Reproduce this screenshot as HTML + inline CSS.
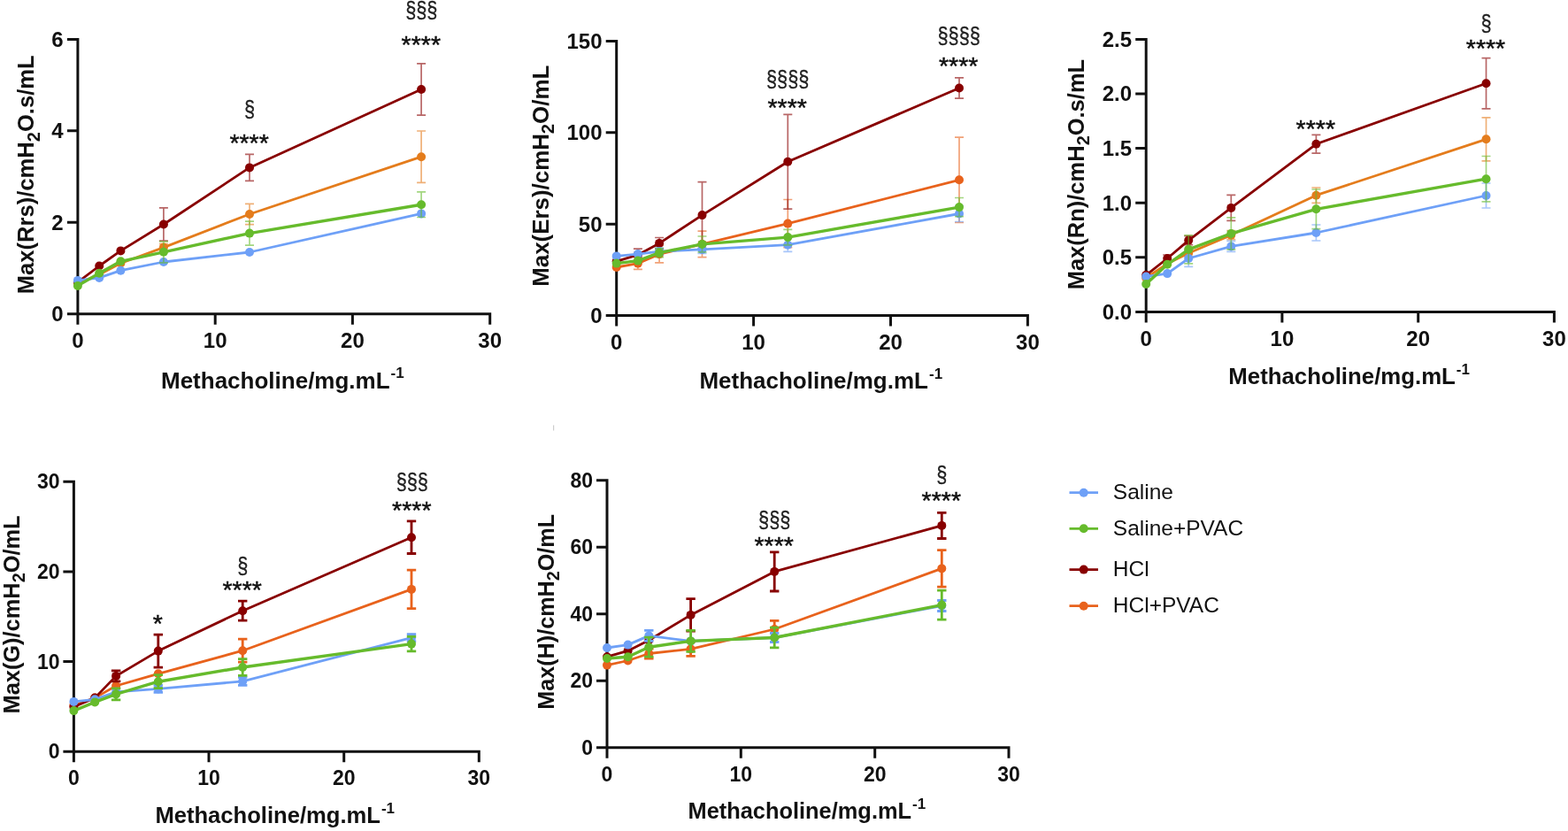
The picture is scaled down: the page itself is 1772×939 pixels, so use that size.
<!DOCTYPE html>
<html><head><meta charset="utf-8"><title>Methacholine dose response</title>
<style>
html,body{margin:0;padding:0;background:#fff;}
svg{display:block;}
text{font-family:"Liberation Sans", Arial, sans-serif;fill:#111;}
.b{font-weight:bold;}
.ax{stroke:#111;stroke-width:3.0;fill:none;stroke-linecap:butt;}
.st{font-size:28.5px;stroke:#111;stroke-width:0.45px;}
.sec{font-size:25.5px;fill:#222;stroke:#222;stroke-width:0.35px;}
</style></head>
<body>
<svg width="1772" height="939" viewBox="0 0 1772 939">
<rect width="1772" height="939" fill="#fff"/>
<rect x="625" y="480.5" width="1.2" height="6" fill="#ccc"/>
<path d="M75.9 44.4H87.9V366.7M75.9 354.7H553.7V366.7" class="ax"/>
<path d="M75.9 251.3H87.9M75.9 147.8H87.9M243.2 354.7V366.7M398.4 354.7V366.7" class="ax"/>
<text x="71.5" y="363.1" font-size="24" class="b" text-anchor="end">0</text>
<text x="71.5" y="259.7" font-size="24" class="b" text-anchor="end">2</text>
<text x="71.5" y="156.2" font-size="24" class="b" text-anchor="end">4</text>
<text x="71.5" y="52.8" font-size="24" class="b" text-anchor="end">6</text>
<text x="87.9" y="393" font-size="24" class="b" text-anchor="middle">0</text>
<text x="243.2" y="393" font-size="24" class="b" text-anchor="middle">10</text>
<text x="398.4" y="393" font-size="24" class="b" text-anchor="middle">20</text>
<text x="553.7" y="393" font-size="24" class="b" text-anchor="middle">30</text>
<text transform="translate(38.3 332.3) rotate(-90)" font-size="25.6" class="b">Max(Rrs)/cmH<tspan font-size="20" dy="6.2">2</tspan><tspan dy="-6.2">O.s/mL</tspan></text>
<text x="182" y="438.9" font-size="26" class="b">Methacholine/mg.mL<tspan font-size="17" dy="-11.5" dx="1">-1</tspan></text>
<path d="M184.9 275.6V283.6M179.9 275.6H189.9M179.9 283.6H189.9M282 230.4V253.6M277 230.4H287M277 253.6H287M476.1 148V206.4M471.1 148H481.1M471.1 206.4H481.1" stroke="#e47c1c" stroke-width="1.7" fill="none" opacity="0.6"/>
<polyline points="87.9,320 112.2,310.2 136.4,297.5 184.9,279.6 282,242 476.1,177.2" stroke="#e47c1c" stroke-width="2.8" fill="none" stroke-linejoin="round"/>
<circle cx="87.9" cy="320" r="5" fill="#e47c1c"/><circle cx="112.2" cy="310.2" r="5" fill="#e47c1c"/><circle cx="136.4" cy="297.5" r="5" fill="#e47c1c"/><circle cx="184.9" cy="279.6" r="5" fill="#e47c1c"/><circle cx="282" cy="242" r="5" fill="#e47c1c"/><circle cx="476.1" cy="177.2" r="5" fill="#e47c1c"/>
<path d="M184.9 234.9V272.1M179.9 234.9H189.9M179.9 272.1H189.9M282 174.4V204.4M277 174.4H287M277 204.4H287M476.1 71.9V130.1M471.1 71.9H481.1M471.1 130.1H481.1" stroke="#880000" stroke-width="1.7" fill="none" opacity="0.6"/>
<polyline points="87.9,318.8 112.2,300.5 136.4,283.4 184.9,253.5 282,189.4 476.1,101" stroke="#880000" stroke-width="2.8" fill="none" stroke-linejoin="round"/>
<circle cx="87.9" cy="318.8" r="5" fill="#880000"/><circle cx="112.2" cy="300.5" r="5" fill="#880000"/><circle cx="136.4" cy="283.4" r="5" fill="#880000"/><circle cx="184.9" cy="253.5" r="5" fill="#880000"/><circle cx="282" cy="189.4" r="5" fill="#880000"/><circle cx="476.1" cy="101" r="5" fill="#880000"/>
<path d="" stroke="#6ea0f7" stroke-width="1.7" fill="none" opacity="0.6"/>
<polyline points="87.9,316.9 112.2,313.9 136.4,305.7 184.9,296 282,285 476.1,241.4" stroke="#6ea0f7" stroke-width="2.8" fill="none" stroke-linejoin="round"/>
<circle cx="87.9" cy="316.9" r="5" fill="#6ea0f7"/><circle cx="112.2" cy="313.9" r="5" fill="#6ea0f7"/><circle cx="136.4" cy="305.7" r="5" fill="#6ea0f7"/><circle cx="184.9" cy="296" r="5" fill="#6ea0f7"/><circle cx="282" cy="285" r="5" fill="#6ea0f7"/><circle cx="476.1" cy="241.4" r="5" fill="#6ea0f7"/>
<path d="M184.9 272.8V296.8M179.9 272.8H189.9M179.9 296.8H189.9M282 250.1V277.1M277 250.1H287M277 277.1H287M476.1 216.9V245.5M471.1 216.9H481.1M471.1 245.5H481.1" stroke="#66bb2c" stroke-width="1.7" fill="none" opacity="0.6"/>
<polyline points="87.9,322.9 112.2,308.7 136.4,295.3 184.9,284.8 282,263.6 476.1,231.2" stroke="#66bb2c" stroke-width="3.4" fill="none" stroke-linejoin="round"/>
<circle cx="87.9" cy="322.9" r="5" fill="#66bb2c"/><circle cx="112.2" cy="308.7" r="5" fill="#66bb2c"/><circle cx="136.4" cy="295.3" r="5" fill="#66bb2c"/><circle cx="184.9" cy="284.8" r="5" fill="#66bb2c"/><circle cx="282" cy="263.6" r="5" fill="#66bb2c"/><circle cx="476.1" cy="231.2" r="5" fill="#66bb2c"/>
<text x="281.6" y="171.4" class="st" text-anchor="middle">****</text>
<text x="282.1" y="132.2" class="sec" text-anchor="middle" textLength="12.1" lengthAdjust="spacingAndGlyphs">§</text>
<text x="475.8" y="59.6" class="st" text-anchor="middle">****</text>
<text x="476.3" y="20.3" class="sec" text-anchor="middle" textLength="36.3" lengthAdjust="spacingAndGlyphs">§§§</text>
<path d="M684.7 46.5H696.7V368.5M684.7 356.5H1161.4V368.5" class="ax"/>
<path d="M684.7 253.2H696.7M684.7 149.8H696.7M851.6 356.5V368.5M1006.5 356.5V368.5" class="ax"/>
<text x="680.5" y="364.9" font-size="24" class="b" text-anchor="end">0</text>
<text x="680.5" y="261.6" font-size="24" class="b" text-anchor="end">50</text>
<text x="680.5" y="158.2" font-size="24" class="b" text-anchor="end">100</text>
<text x="680.5" y="54.9" font-size="24" class="b" text-anchor="end">150</text>
<text x="696.7" y="395.2" font-size="24" class="b" text-anchor="middle">0</text>
<text x="851.6" y="395.2" font-size="24" class="b" text-anchor="middle">10</text>
<text x="1006.5" y="395.2" font-size="24" class="b" text-anchor="middle">20</text>
<text x="1161.4" y="395.2" font-size="24" class="b" text-anchor="middle">30</text>
<text transform="translate(619.8 323.8) rotate(-90)" font-size="25.9" class="b">Max(Ers)/cmH<tspan font-size="20.2" dy="6.2">2</tspan><tspan dy="-6.2">O/mL</tspan></text>
<text x="790.4" y="439.3" font-size="26" class="b">Methacholine/mg.mL<tspan font-size="17" dy="-11.5" dx="1">-1</tspan></text>
<path d="M720.9 290.9V304.3M715.9 290.9H725.9M715.9 304.3H725.9M745.1 277.4V296.8M740.1 277.4H750.1M740.1 296.8H750.1M793.5 261.2V290.6M788.5 261.2H798.5M788.5 290.6H798.5M890.3 225.5V279.7M885.3 225.5H895.3M885.3 279.7H895.3M1084 155.1V251.5M1079 155.1H1089M1079 251.5H1089" stroke="#e8621c" stroke-width="1.7" fill="none" opacity="0.6"/>
<polyline points="696.7,302 720.9,297.6 745.1,287.1 793.5,275.9 890.3,252.6 1084,203.3" stroke="#e8621c" stroke-width="2.8" fill="none" stroke-linejoin="round"/>
<circle cx="696.7" cy="302" r="5" fill="#e8621c"/><circle cx="720.9" cy="297.6" r="5" fill="#e8621c"/><circle cx="745.1" cy="287.1" r="5" fill="#e8621c"/><circle cx="793.5" cy="275.9" r="5" fill="#e8621c"/><circle cx="890.3" cy="252.6" r="5" fill="#e8621c"/><circle cx="1084" cy="203.3" r="5" fill="#e8621c"/>
<path d="M720.9 281.1V294.7M715.9 281.1H725.9M715.9 294.7H725.9M745.1 268.5V281.3M740.1 268.5H750.1M740.1 281.3H750.1M793.5 205.6V280.6M788.5 205.6H798.5M788.5 280.6H798.5M890.3 129.4V236.2M885.3 129.4H895.3M885.3 236.2H895.3M1084 87.8V111.2M1079 87.8H1089M1079 111.2H1089" stroke="#880000" stroke-width="1.7" fill="none" opacity="0.6"/>
<polyline points="696.7,295.3 720.9,287.9 745.1,274.9 793.5,243.1 890.3,182.8 1084,99.5" stroke="#880000" stroke-width="2.8" fill="none" stroke-linejoin="round"/>
<circle cx="696.7" cy="295.3" r="5" fill="#880000"/><circle cx="720.9" cy="287.9" r="5" fill="#880000"/><circle cx="745.1" cy="274.9" r="5" fill="#880000"/><circle cx="793.5" cy="243.1" r="5" fill="#880000"/><circle cx="890.3" cy="182.8" r="5" fill="#880000"/><circle cx="1084" cy="99.5" r="5" fill="#880000"/>
<path d="M745.1 280.1V288.1M740.1 280.1H750.1M740.1 288.1H750.1M793.5 277.4V286.4M788.5 277.4H798.5M788.5 286.4H798.5M890.3 269V284.4M885.3 269H895.3M885.3 284.4H895.3M1084 232.5V250.5M1079 232.5H1089M1079 250.5H1089" stroke="#6ea0f7" stroke-width="1.7" fill="none" opacity="0.6"/>
<polyline points="696.7,289.4 720.9,287.1 745.1,284.1 793.5,281.9 890.3,276.7 1084,241.5" stroke="#6ea0f7" stroke-width="2.8" fill="none" stroke-linejoin="round"/>
<circle cx="696.7" cy="289.4" r="5" fill="#6ea0f7"/><circle cx="720.9" cy="287.1" r="5" fill="#6ea0f7"/><circle cx="745.1" cy="284.1" r="5" fill="#6ea0f7"/><circle cx="793.5" cy="281.9" r="5" fill="#6ea0f7"/><circle cx="890.3" cy="276.7" r="5" fill="#6ea0f7"/><circle cx="1084" cy="241.5" r="5" fill="#6ea0f7"/>
<path d="M745.1 280.6V290.6M740.1 280.6H750.1M740.1 290.6H750.1M793.5 267V284.8M788.5 267H798.5M788.5 284.8H798.5M890.3 259.3V276.9M885.3 259.3H895.3M885.3 276.9H895.3M1084 223.5V244.7M1079 223.5H1089M1079 244.7H1089" stroke="#66bb2c" stroke-width="1.7" fill="none" opacity="0.6"/>
<polyline points="696.7,297.6 720.9,294.6 745.1,285.6 793.5,275.9 890.3,268.1 1084,234.1" stroke="#66bb2c" stroke-width="3.4" fill="none" stroke-linejoin="round"/>
<circle cx="696.7" cy="297.6" r="5" fill="#66bb2c"/><circle cx="720.9" cy="294.6" r="5" fill="#66bb2c"/><circle cx="745.1" cy="285.6" r="5" fill="#66bb2c"/><circle cx="793.5" cy="275.9" r="5" fill="#66bb2c"/><circle cx="890.3" cy="268.1" r="5" fill="#66bb2c"/><circle cx="1084" cy="234.1" r="5" fill="#66bb2c"/>
<text x="889.7" y="130.6" class="st" text-anchor="middle">****</text>
<text x="890.2" y="97.7" class="sec" text-anchor="middle" textLength="48.4" lengthAdjust="spacingAndGlyphs">§§§§</text>
<text x="1083.2" y="83.5" class="st" text-anchor="middle">****</text>
<text x="1083.7" y="49.2" class="sec" text-anchor="middle" textLength="48.4" lengthAdjust="spacingAndGlyphs">§§§§</text>
<path d="M1283.2 44.4H1295.2V364.4M1283.2 352.4H1756.4V364.4" class="ax"/>
<path d="M1283.2 290.8H1295.2M1283.2 229.2H1295.2M1283.2 167.6H1295.2M1283.2 106H1295.2M1448.9 352.4V364.4M1602.7 352.4V364.4" class="ax"/>
<text x="1279" y="360.8" font-size="24" class="b" text-anchor="end">0.0</text>
<text x="1279" y="299.2" font-size="24" class="b" text-anchor="end">0.5</text>
<text x="1279" y="237.6" font-size="24" class="b" text-anchor="end">1.0</text>
<text x="1279" y="176" font-size="24" class="b" text-anchor="end">1.5</text>
<text x="1279" y="114.4" font-size="24" class="b" text-anchor="end">2.0</text>
<text x="1279" y="52.8" font-size="24" class="b" text-anchor="end">2.5</text>
<text x="1295.2" y="391" font-size="24" class="b" text-anchor="middle">0</text>
<text x="1448.9" y="391" font-size="24" class="b" text-anchor="middle">10</text>
<text x="1602.7" y="391" font-size="24" class="b" text-anchor="middle">20</text>
<text x="1756.4" y="391" font-size="24" class="b" text-anchor="middle">30</text>
<text transform="translate(1225.2 327.3) rotate(-90)" font-size="25.5" class="b">Max(Rn)/cmH<tspan font-size="19.9" dy="6.2">2</tspan><tspan dy="-6.2">O.s/mL</tspan></text>
<text x="1388.3" y="434.3" font-size="25.8" class="b">Methacholine/mg.mL<tspan font-size="17" dy="-11.5" dx="1">-1</tspan></text>
<path d="M1343.2 282V290M1338.2 282H1348.2M1338.2 290H1348.2M1391.3 260.6V270.6M1386.3 260.6H1396.3M1386.3 270.6H1396.3M1487.4 212V229.4M1482.4 212H1492.4M1482.4 229.4H1492.4M1679.5 132.8V181.8M1674.5 132.8H1684.5M1674.5 181.8H1684.5" stroke="#e47c1c" stroke-width="1.7" fill="none" opacity="0.6"/>
<polyline points="1295.2,314 1319.2,298 1343.2,286 1391.3,265.6 1487.4,220.7 1679.5,157.3" stroke="#e47c1c" stroke-width="2.8" fill="none" stroke-linejoin="round"/>
<circle cx="1295.2" cy="314" r="5" fill="#e47c1c"/><circle cx="1319.2" cy="298" r="5" fill="#e47c1c"/><circle cx="1343.2" cy="286" r="5" fill="#e47c1c"/><circle cx="1391.3" cy="265.6" r="5" fill="#e47c1c"/><circle cx="1487.4" cy="220.7" r="5" fill="#e47c1c"/><circle cx="1679.5" cy="157.3" r="5" fill="#e47c1c"/>
<path d="M1319.2 288V296M1314.2 288H1324.2M1314.2 296H1324.2M1343.2 266.6V276.6M1338.2 266.6H1348.2M1338.2 276.6H1348.2M1391.3 220.4V249.4M1386.3 220.4H1396.3M1386.3 249.4H1396.3M1487.4 152.4V173.2M1482.4 152.4H1492.4M1482.4 173.2H1492.4M1679.5 65.6V122.8M1674.5 65.6H1684.5M1674.5 122.8H1684.5" stroke="#880000" stroke-width="1.7" fill="none" opacity="0.6"/>
<polyline points="1295.2,310.8 1319.2,292 1343.2,271.6 1391.3,234.9 1487.4,162.8 1679.5,94.2" stroke="#880000" stroke-width="2.8" fill="none" stroke-linejoin="round"/>
<circle cx="1295.2" cy="310.8" r="5" fill="#880000"/><circle cx="1319.2" cy="292" r="5" fill="#880000"/><circle cx="1343.2" cy="271.6" r="5" fill="#880000"/><circle cx="1391.3" cy="234.9" r="5" fill="#880000"/><circle cx="1487.4" cy="162.8" r="5" fill="#880000"/><circle cx="1679.5" cy="94.2" r="5" fill="#880000"/>
<path d="M1343.2 282.6V301.4M1338.2 282.6H1348.2M1338.2 301.4H1348.2M1391.3 272.4V284.4M1386.3 272.4H1396.3M1386.3 284.4H1396.3M1487.4 254V272M1482.4 254H1492.4M1482.4 272H1492.4M1679.5 207V235M1674.5 207H1684.5M1674.5 235H1684.5" stroke="#6ea0f7" stroke-width="1.7" fill="none" opacity="0.6"/>
<polyline points="1295.2,312.5 1319.2,309.1 1343.2,292 1391.3,278.4 1487.4,263 1679.5,221" stroke="#6ea0f7" stroke-width="2.8" fill="none" stroke-linejoin="round"/>
<circle cx="1295.2" cy="312.5" r="5" fill="#6ea0f7"/><circle cx="1319.2" cy="309.1" r="5" fill="#6ea0f7"/><circle cx="1343.2" cy="292" r="5" fill="#6ea0f7"/><circle cx="1391.3" cy="278.4" r="5" fill="#6ea0f7"/><circle cx="1487.4" cy="263" r="5" fill="#6ea0f7"/><circle cx="1679.5" cy="221" r="5" fill="#6ea0f7"/>
<path d="M1343.2 265.8V297.8M1338.2 265.8H1348.2M1338.2 297.8H1348.2M1391.3 245.9V281.9M1386.3 245.9H1396.3M1386.3 281.9H1396.3M1487.4 214V258.6M1482.4 214H1492.4M1482.4 258.6H1492.4M1679.5 176.5V227.9M1674.5 176.5H1684.5M1674.5 227.9H1684.5" stroke="#66bb2c" stroke-width="1.7" fill="none" opacity="0.6"/>
<polyline points="1295.2,321 1319.2,298.8 1343.2,281.8 1391.3,263.9 1487.4,236.3 1679.5,202.2" stroke="#66bb2c" stroke-width="3.4" fill="none" stroke-linejoin="round"/>
<circle cx="1295.2" cy="321" r="5" fill="#66bb2c"/><circle cx="1319.2" cy="298.8" r="5" fill="#66bb2c"/><circle cx="1343.2" cy="281.8" r="5" fill="#66bb2c"/><circle cx="1391.3" cy="263.9" r="5" fill="#66bb2c"/><circle cx="1487.4" cy="236.3" r="5" fill="#66bb2c"/><circle cx="1679.5" cy="202.2" r="5" fill="#66bb2c"/>
<text x="1486.8" y="154.8" class="st" text-anchor="middle">****</text>
<text x="1679" y="63.5" class="st" text-anchor="middle">****</text>
<text x="1679.5" y="35.4" class="sec" text-anchor="middle" textLength="12.1" lengthAdjust="spacingAndGlyphs">§</text>
<path d="M71.4 544.3H83.4V861.2M71.4 849.2H541.3V861.2" class="ax"/>
<path d="M71.4 747.6H83.4M71.4 645.9H83.4M236 849.2V861.2M388.7 849.2V861.2" class="ax"/>
<text x="67.5" y="857.2" font-size="23" class="b" text-anchor="end">0</text>
<text x="67.5" y="755.6" font-size="23" class="b" text-anchor="end">10</text>
<text x="67.5" y="653.9" font-size="23" class="b" text-anchor="end">20</text>
<text x="67.5" y="552.3" font-size="23" class="b" text-anchor="end">30</text>
<text x="83.4" y="887" font-size="23" class="b" text-anchor="middle">0</text>
<text x="236" y="887" font-size="23" class="b" text-anchor="middle">10</text>
<text x="388.7" y="887" font-size="23" class="b" text-anchor="middle">20</text>
<text x="541.3" y="887" font-size="23" class="b" text-anchor="middle">30</text>
<text transform="translate(21.8 806.5) rotate(-90)" font-size="25.4" class="b">Max(G)/cmH<tspan font-size="19.8" dy="6.2">2</tspan><tspan dy="-6.2">O/mL</tspan></text>
<text x="175.4" y="930" font-size="25.6" class="b">Methacholine/mg.mL<tspan font-size="17" dy="-11.5" dx="1">-1</tspan></text>
<path d="M274.2 722.2V748.2M269 722.2H279.4M269 748.2H279.4M465 644.1V687.7M459.8 644.1H470.2M459.8 687.7H470.2" stroke="#e8621c" stroke-width="2.8" fill="none"/>
<polyline points="83.4,797 107.2,788.6 131.1,775 178.8,761.3 274.2,735.2 465,665.9" stroke="#e8621c" stroke-width="2.8" fill="none" stroke-linejoin="round"/>
<circle cx="83.4" cy="797" r="5" fill="#e8621c"/><circle cx="107.2" cy="788.6" r="5" fill="#e8621c"/><circle cx="131.1" cy="775" r="5" fill="#e8621c"/><circle cx="178.8" cy="761.3" r="5" fill="#e8621c"/><circle cx="274.2" cy="735.2" r="5" fill="#e8621c"/><circle cx="465" cy="665.9" r="5" fill="#e8621c"/>
<path d="M131.1 757.9V769.9M125.9 757.9H136.3M125.9 769.9H136.3M178.8 717.1V754.1M173.6 717.1H184M173.6 754.1H184M274.2 679.2V701.2M269 679.2H279.4M269 701.2H279.4M465 588.9V625.5M459.8 588.9H470.2M459.8 625.5H470.2" stroke="#880000" stroke-width="2.8" fill="none"/>
<polyline points="83.4,798.8 107.2,788.6 131.1,763.9 178.8,735.6 274.2,690.2 465,607.2" stroke="#880000" stroke-width="2.8" fill="none" stroke-linejoin="round"/>
<circle cx="83.4" cy="798.8" r="5" fill="#880000"/><circle cx="107.2" cy="788.6" r="5" fill="#880000"/><circle cx="131.1" cy="763.9" r="5" fill="#880000"/><circle cx="178.8" cy="735.6" r="5" fill="#880000"/><circle cx="274.2" cy="690.2" r="5" fill="#880000"/><circle cx="465" cy="607.2" r="5" fill="#880000"/>
<path d="M178.8 774.4V782.4M173.6 774.4H184M173.6 782.4H184M274.2 765.4V774.4M269 765.4H279.4M269 774.4H279.4M465 716.7V724.7M459.8 716.7H470.2M459.8 724.7H470.2" stroke="#6ea0f7" stroke-width="2.8" fill="none"/>
<polyline points="83.4,792.9 107.2,790.3 131.1,781.8 178.8,778.4 274.2,769.9 465,720.7" stroke="#6ea0f7" stroke-width="2.8" fill="none" stroke-linejoin="round"/>
<circle cx="83.4" cy="792.9" r="5" fill="#6ea0f7"/><circle cx="107.2" cy="790.3" r="5" fill="#6ea0f7"/><circle cx="131.1" cy="781.8" r="5" fill="#6ea0f7"/><circle cx="178.8" cy="778.4" r="5" fill="#6ea0f7"/><circle cx="274.2" cy="769.9" r="5" fill="#6ea0f7"/><circle cx="465" cy="720.7" r="5" fill="#6ea0f7"/>
<path d="M131.1 777.9V790.9M125.9 777.9H136.3M125.9 790.9H136.3M178.8 762.7V777.7M173.6 762.7H184M173.6 777.7H184M274.2 744.6V763.4M269 744.6H279.4M269 763.4H279.4M465 719.3V735.9M459.8 719.3H470.2M459.8 735.9H470.2" stroke="#66bb2c" stroke-width="2.8" fill="none"/>
<polyline points="83.4,803.1 107.2,793.4 131.1,784.4 178.8,770.2 274.2,754 465,727.6" stroke="#66bb2c" stroke-width="3.4" fill="none" stroke-linejoin="round"/>
<circle cx="83.4" cy="803.1" r="5" fill="#66bb2c"/><circle cx="107.2" cy="793.4" r="5" fill="#66bb2c"/><circle cx="131.1" cy="784.4" r="5" fill="#66bb2c"/><circle cx="178.8" cy="770.2" r="5" fill="#66bb2c"/><circle cx="274.2" cy="754" r="5" fill="#66bb2c"/><circle cx="465" cy="727.6" r="5" fill="#66bb2c"/>
<text x="178.2" y="713.6" class="st" text-anchor="middle">*</text>
<text x="273.7" y="676.2" class="st" text-anchor="middle">****</text>
<text x="274.2" y="647.5" class="sec" text-anchor="middle" textLength="12.1" lengthAdjust="spacingAndGlyphs">§</text>
<text x="465.3" y="585.5" class="st" text-anchor="middle">****</text>
<text x="465.8" y="553.1" class="sec" text-anchor="middle" textLength="36.3" lengthAdjust="spacingAndGlyphs">§§§</text>
<path d="M674 542.7H686V856.7M674 844.7H1140V856.7" class="ax"/>
<path d="M674 769.2H686M674 693.7H686M674 618.2H686M837.3 844.7V856.7M988.7 844.7V856.7" class="ax"/>
<text x="670" y="852.7" font-size="23" class="b" text-anchor="end">0</text>
<text x="670" y="777.2" font-size="23" class="b" text-anchor="end">20</text>
<text x="670" y="701.7" font-size="23" class="b" text-anchor="end">40</text>
<text x="670" y="626.2" font-size="23" class="b" text-anchor="end">60</text>
<text x="670" y="550.7" font-size="23" class="b" text-anchor="end">80</text>
<text x="686" y="882.5" font-size="23" class="b" text-anchor="middle">0</text>
<text x="837.3" y="882.5" font-size="23" class="b" text-anchor="middle">10</text>
<text x="988.7" y="882.5" font-size="23" class="b" text-anchor="middle">20</text>
<text x="1140" y="882.5" font-size="23" class="b" text-anchor="middle">30</text>
<text transform="translate(625.6 801.8) rotate(-90)" font-size="25.2" class="b">Max(H)/cmH<tspan font-size="19.7" dy="6.2">2</tspan><tspan dy="-6.2">O/mL</tspan></text>
<text x="777.5" y="925.4" font-size="25.4" class="b">Methacholine/mg.mL<tspan font-size="17" dy="-11.5" dx="1">-1</tspan></text>
<path d="M733.3 733V744M728.1 733H738.5M728.1 744H738.5M780.6 725.4V741.4M775.4 725.4H785.8M775.4 741.4H785.8M875.2 701.3V720.7M870 701.3H880.4M870 720.7H880.4M1064.3 621.6V663.2M1059.1 621.6H1069.5M1059.1 663.2H1069.5" stroke="#e8621c" stroke-width="2.8" fill="none"/>
<polyline points="686,751.6 709.6,746.5 733.3,738.5 780.6,733.4 875.2,711 1064.3,642.4" stroke="#e8621c" stroke-width="2.8" fill="none" stroke-linejoin="round"/>
<circle cx="686" cy="751.6" r="5" fill="#e8621c"/><circle cx="709.6" cy="746.5" r="5" fill="#e8621c"/><circle cx="733.3" cy="738.5" r="5" fill="#e8621c"/><circle cx="780.6" cy="733.4" r="5" fill="#e8621c"/><circle cx="875.2" cy="711" r="5" fill="#e8621c"/><circle cx="1064.3" cy="642.4" r="5" fill="#e8621c"/>
<path d="M780.6 676.6V713.2M775.4 676.6H785.8M775.4 713.2H785.8M875.2 623.8V668M870 623.8H880.4M870 668H880.4M1064.3 579.3V608.5M1059.1 579.3H1069.5M1059.1 608.5H1069.5" stroke="#880000" stroke-width="2.8" fill="none"/>
<polyline points="686,742.2 709.6,735.4 733.3,723.5 780.6,694.9 875.2,645.9 1064.3,593.9" stroke="#880000" stroke-width="2.8" fill="none" stroke-linejoin="round"/>
<circle cx="686" cy="742.2" r="5" fill="#880000"/><circle cx="709.6" cy="735.4" r="5" fill="#880000"/><circle cx="733.3" cy="723.5" r="5" fill="#880000"/><circle cx="780.6" cy="694.9" r="5" fill="#880000"/><circle cx="875.2" cy="645.9" r="5" fill="#880000"/><circle cx="1064.3" cy="593.9" r="5" fill="#880000"/>
<path d="M733.3 712.4V724.4M728.1 712.4H738.5M728.1 724.4H738.5M875.2 715.5V725.5M870 715.5H880.4M870 725.5H880.4M1064.3 678.5V690.5M1059.1 678.5H1069.5M1059.1 690.5H1069.5" stroke="#6ea0f7" stroke-width="2.8" fill="none"/>
<polyline points="686,732 709.6,728.6 733.3,718.4 780.6,724.4 875.2,720.5 1064.3,684.5" stroke="#6ea0f7" stroke-width="2.8" fill="none" stroke-linejoin="round"/>
<circle cx="686" cy="732" r="5" fill="#6ea0f7"/><circle cx="709.6" cy="728.6" r="5" fill="#6ea0f7"/><circle cx="733.3" cy="718.4" r="5" fill="#6ea0f7"/><circle cx="780.6" cy="724.4" r="5" fill="#6ea0f7"/><circle cx="875.2" cy="720.5" r="5" fill="#6ea0f7"/><circle cx="1064.3" cy="684.5" r="5" fill="#6ea0f7"/>
<path d="M733.3 720.2V742.2M728.1 720.2H738.5M728.1 742.2H738.5M780.6 712.4V736.4M775.4 712.4H785.8M775.4 736.4H785.8M875.2 709.1V731.9M870 709.1H880.4M870 731.9H880.4M1064.3 667.1V700.1M1059.1 667.1H1069.5M1059.1 700.1H1069.5" stroke="#66bb2c" stroke-width="2.8" fill="none"/>
<polyline points="686,744 709.6,742.2 733.3,731.2 780.6,724.4 875.2,720.5 1064.3,683.6" stroke="#66bb2c" stroke-width="3.4" fill="none" stroke-linejoin="round"/>
<circle cx="686" cy="744" r="5" fill="#66bb2c"/><circle cx="709.6" cy="742.2" r="5" fill="#66bb2c"/><circle cx="733.3" cy="731.2" r="5" fill="#66bb2c"/><circle cx="780.6" cy="724.4" r="5" fill="#66bb2c"/><circle cx="875.2" cy="720.5" r="5" fill="#66bb2c"/><circle cx="1064.3" cy="683.6" r="5" fill="#66bb2c"/>
<text x="874.7" y="626.1" class="st" text-anchor="middle">****</text>
<text x="875.2" y="596" class="sec" text-anchor="middle" textLength="36.3" lengthAdjust="spacingAndGlyphs">§§§</text>
<text x="1063.8" y="574.8" class="st" text-anchor="middle">****</text>
<text x="1064.3" y="545.4" class="sec" text-anchor="middle" textLength="12.1" lengthAdjust="spacingAndGlyphs">§</text>
<path d="M1208.5 556.7H1241" stroke="#6ea0f7" stroke-width="2.8"/><circle cx="1224.7" cy="556.7" r="5" fill="#6ea0f7"/>
<text x="1257.8" y="564.3" font-size="24.5" fill="#222">Saline</text>
<path d="M1208.5 597.3H1241" stroke="#66bb2c" stroke-width="2.8"/><circle cx="1224.7" cy="597.3" r="5" fill="#66bb2c"/>
<text x="1257.8" y="605.2" font-size="24.5" fill="#222">Saline+PVAC</text>
<path d="M1208.5 643.6H1241" stroke="#880000" stroke-width="2.8"/><circle cx="1224.7" cy="643.6" r="5" fill="#880000"/>
<text x="1257.8" y="651.0" font-size="24.5" fill="#222">HCl</text>
<path d="M1208.5 684.7H1241" stroke="#e8621c" stroke-width="2.8"/><circle cx="1224.7" cy="684.7" r="5" fill="#e8621c"/>
<text x="1257.8" y="691.5" font-size="24.5" fill="#222">HCl+PVAC</text>
</svg>
</body></html>
